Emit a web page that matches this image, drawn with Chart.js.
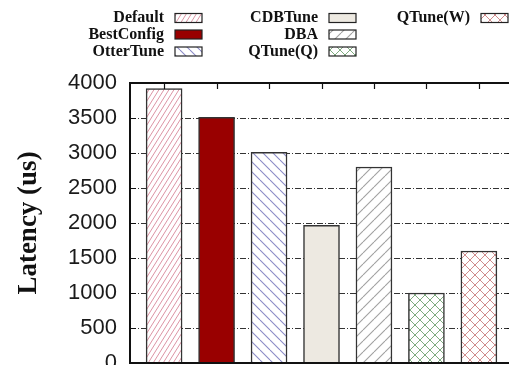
<!DOCTYPE html>
<html>
<head>
<meta charset="utf-8">
<script src="https://cdn.jsdelivr.net/npm/chart.js@4/dist/chart.umd.min.js"></script>
<style>
  html, body { margin: 0; padding: 0; overflow: hidden; background: #fff; }
  canvas { display: block; }
</style>
</head>
<body>
<canvas id="c" width="530" height="390"></canvas>
<script>
// Tuning methods and their measured latency (microseconds)
const methods = ['Default', 'BestConfig', 'OtterTune', 'CDBTune', 'DBA', 'QTune(Q)', 'QTune(W)'];
const latencyUs = [3920, 3510, 3010, 1965, 2800, 1000, 1600];
const yMin = 0, yMax = 4000, yStep = 500;
// legend layout: which methods sit in each column
const legendColumns = [
  ['Default', 'BestConfig', 'OtterTune'],
  ['CDBTune', 'DBA', 'QTune(Q)'],
  ['QTune(W)']
];

// --- fill patterns -------------------------------------------------------
function tile(w, h, draw) {
  const c = document.createElement('canvas');
  c.width = w; c.height = h;
  const g = c.getContext('2d');
  g.fillStyle = '#fff';
  g.fillRect(0, 0, w, h);
  draw(g, w, h);
  return g.createPattern(c, 'repeat');
}
function slash(g, w, h, color, lw) {          // "/" lines
  g.strokeStyle = color; g.lineWidth = lw;
  for (const dx of [-w, 0, w]) {
    g.beginPath(); g.moveTo(dx, h); g.lineTo(dx + w, 0); g.stroke();
  }
}
function backslash(g, w, h, color, lw) {      // "\" lines
  g.strokeStyle = color; g.lineWidth = lw;
  for (const dx of [-w, 0, w]) {
    g.beginPath(); g.moveTo(dx, 0); g.lineTo(dx + w, h); g.stroke();
  }
}
const fills = {
  'Default':    tile(5, 8, (g, w, h) => slash(g, w, h, '#dc94a4', 1)),
  'BestConfig': '#990000',
  'OtterTune':  tile(10, 10, (g, w, h) => backslash(g, w, h, '#8a8ac6', 1.1)),
  'CDBTune':    '#ede9e1',
  'DBA':        tile(11, 11, (g, w, h) => slash(g, w, h, '#a0a0a0', 1.1)),
  'QTune(Q)':   tile(10, 10, (g, w, h) => { slash(g, w, h, '#7fab7f', 1); backslash(g, w, h, '#7fab7f', 1); }),
  'QTune(W)':   tile(10, 10, (g, w, h) => { slash(g, w, h, '#d08c8c', 1); backslash(g, w, h, '#d08c8c', 1); })
};

// --- frame, inner ticks and legend --------------------------------------
const framePlugin = {
  id: 'frame',
  afterDatasetsDraw(chart) {
    const { ctx, chartArea: a, scales: { x, y } } = chart;
    ctx.save();
    ctx.strokeStyle = '#111';
    ctx.lineWidth = 1.2;
    ctx.beginPath();
    for (let v = yMin + yStep; v < yMax; v += yStep) {
      const py = Math.round(y.getPixelForValue(v)) + 0.5;
      ctx.moveTo(a.left, py); ctx.lineTo(a.left + 6, py);
      ctx.moveTo(a.right, py); ctx.lineTo(a.right - 6, py);
    }
    methods.forEach((m, i) => {
      const px = Math.round(x.getPixelForValue(i)) + 0.5;
      ctx.moveTo(px, a.top); ctx.lineTo(px, a.top + 6);
    });
    ctx.stroke();
    ctx.lineWidth = 2;
    ctx.strokeRect(a.left, a.top, a.right - a.left, a.bottom - a.top);
    ctx.restore();
  },
  afterDraw(chart) {
    const ctx = chart.ctx;
    const textRight = [164, 318, 470];
    const rowY = [18, 34.5, 51.5];
    ctx.save();
    ctx.font = 'bold 16px "Liberation Serif"';
    ctx.textAlign = 'right';
    ctx.textBaseline = 'middle';
    legendColumns.forEach((col, ci) => {
      col.forEach((name, ri) => {
        const y = rowY[ri];
        ctx.fillStyle = '#111';
        ctx.fillText(name, textRight[ci], y);
        const sx = textRight[ci] + 11, sw = 27, sh = 9;
        ctx.fillStyle = fills[name];
        ctx.fillRect(sx, y - sh / 2, sw, sh);
        ctx.strokeStyle = '#222';
        ctx.lineWidth = 1.2;
        ctx.strokeRect(sx, y - sh / 2, sw, sh);
      });
    });
    ctx.restore();
  }
};

new Chart(document.getElementById('c'), {
  type: 'bar',
  data: {
    datasets: [{
      data: methods.map((m, i) => ({ x: i, y: latencyUs[i] })),
      backgroundColor: methods.map(m => fills[m]),
      borderColor: '#333',
      borderWidth: 1.5,
      barThickness: 36
    }]
  },
  options: {
    responsive: false,
    devicePixelRatio: 1,
    animation: false,
    layout: { padding: { top: 83, bottom: 27, left: 0, right: 17 } },
    plugins: { legend: { display: false }, tooltip: { enabled: false } },
    scales: {
      x: {
        type: 'linear',
        min: -0.65,
        max: 6.65,
        offset: false,
        display: false
      },
      y: {
        min: yMin,
        max: yMax,
        afterFit(scale) { scale.width = 130; },
        ticks: {
          stepSize: yStep,
          padding: 13,
          color: '#1a1a1a',
          font: { family: 'Liberation Sans', size: 22 },
          callback: v => String(v)
        },
        grid: {
          drawTicks: false,
          color: ctx => (ctx.tick && (ctx.tick.value === yMin || ctx.tick.value === yMax)) ? 'rgba(0,0,0,0)' : '#333',
          lineWidth: 1
        },
        border: { display: false, dash: [6, 2, 1, 2] },
        title: {
          display: true,
          text: 'Latency (us)',
          color: '#111',
          font: { family: 'Liberation Serif', size: 27, weight: 'bold' },
          padding: { top: 13, bottom: 0 }
        }
      }
    }
  },
  plugins: [framePlugin]
});
</script>
</body>
</html>
